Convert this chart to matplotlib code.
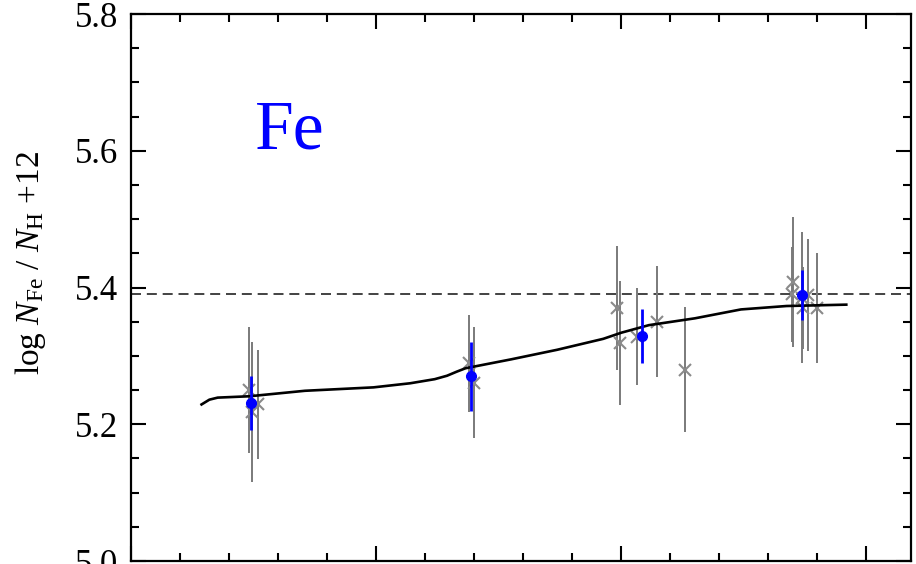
import numpy as np
import matplotlib.pyplot as plt
from matplotlib.ticker import MultipleLocator

plt.rcParams['font.family'] = ['Liberation Serif', 'DejaVu Serif']
plt.rcParams['mathtext.fontset'] = 'custom'
plt.rcParams['mathtext.rm'] = 'Liberation Serif'
plt.rcParams['mathtext.it'] = 'Liberation Serif:italic'

# model curve
curve_x = [1.44, 1.60, 1.77, 2.42, 3.55, 4.95, 5.70, 6.20, 6.45, 6.65,
           6.83, 7.76, 8.70, 9.64, 10.01, 10.57, 11.51, 12.45, 13.38, 14.60]
curve_y = [5.229, 5.236, 5.239, 5.241, 5.249, 5.254, 5.260, 5.266, 5.271,
           5.277, 5.282, 5.295, 5.309, 5.325, 5.334, 5.345, 5.355, 5.368,
           5.373, 5.375]

# individual measurements (grey)
grey_x = [2.41, 2.48, 2.59,
          6.90, 7.00,
          9.91, 9.99, 10.32, 10.73, 11.31,
          13.52, 13.49, 13.70, 13.71, 13.82, 14.01]
grey_y = [5.250, 5.218, 5.229,
          5.289, 5.261,
          5.370, 5.319, 5.328, 5.350, 5.280,
          5.408, 5.390, 5.385, 5.370, 5.389, 5.370]
grey_err = [0.092, 0.102, 0.080,
            0.071, 0.081,
            0.091, 0.091, 0.071, 0.081, 0.091,
            0.095, 0.070, 0.096, 0.060, 0.082, 0.080]

# mean values (blue)
mean_x = [2.44, 6.95, 10.43, 13.70]
mean_y = [5.231, 5.270, 5.329, 5.389]
mean_err = [0.040, 0.051, 0.040, 0.036]

solar = 5.39

fig = plt.figure(figsize=(9.16, 5.64), dpi=100)
ax = fig.add_axes([0.143, 0.0053, 0.8515, 0.9697])

ax.axhline(solar, color='#222222', lw=1.2, dashes=(6, 3.5), zorder=1)
ax.plot(curve_x, curve_y, color='black', lw=1.9, zorder=3)

ax.errorbar(grey_x, grey_y, yerr=grey_err, fmt='x', color='#8a8a8a',
            ecolor='#7a7a7a', elinewidth=1.4, capsize=0, ms=8, mew=1.5,
            zorder=2)
ax.errorbar(mean_x, mean_y, yerr=mean_err, fmt='o', color='#0000ff',
            elinewidth=2.0, capsize=0, ms=7, zorder=4)

ax.text(0.159, 0.755, 'Fe', transform=ax.transAxes, color='#0000ff',
        fontsize=50, ha='left', va='baseline')

ax.set_xlim(0, 15.92)
ax.set_ylim(5.0, 5.8)
ax.xaxis.set_major_locator(MultipleLocator(5))
ax.xaxis.set_minor_locator(MultipleLocator(1))
ax.yaxis.set_major_locator(MultipleLocator(0.2))
ax.yaxis.set_minor_locator(MultipleLocator(0.05))
ax.set_xticklabels([])
ax.yaxis.set_major_formatter(plt.FormatStrFormatter('%.1f'))

ax.tick_params(which='both', direction='in', top=True, right=True,
               width=1.5, labelsize=25, pad=9)
ax.tick_params(which='major', length=11)
ax.tick_params(which='minor', length=6)
for s in ax.spines.values():
    s.set_linewidth(1.6)

ax.set_ylabel(r'log $N_{\mathrm{Fe}}$ / $N_{\mathrm{H}}$ +12', fontsize=24)
ax.yaxis.set_label_coords(-0.106, 0.545)

fig.savefig('out.png', dpi=100)
